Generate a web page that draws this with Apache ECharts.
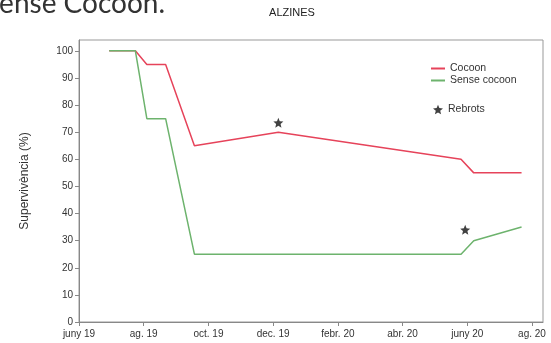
<!DOCTYPE html>
<html><head><meta charset="utf-8">
<script src="https://cdn.jsdelivr.net/npm/echarts@6/dist/echarts.min.js"></script>
<style>html,body{margin:0;padding:0;background:#fff}#c{width:551px;height:343px}</style>
</head><body><div id="c"></div>
<script>
const dates = ['2019-06-29','2019-07-24','2019-08-04','2019-08-22','2019-09-18','2019-12-06','2020-05-26','2020-06-07','2020-07-22'];
const cocoon = [100, 100, 95, 95, 65, 70, 60, 55, 55];
const senseCocoon = [100, 100, 75, 75, 25, 25, 25, 30, 35];
const rebrotDates = ['2019-12-06', '2020-05-30'];
const rebrotValues = [73.5, 34];
const xTickLabels = ['juny 19','ag. 19','oct. 19','dec. 19','febr. 20','abr. 20','juny 20','ag. 20'];
const yTicks = [0,10,20,30,40,50,60,70,80,90,100];

// convert a date into months since 1 June 2019
function monthIndex(s){
  const [y,m,d] = s.split('-').map(Number);
  const dim = new Date(y, m, 0).getDate();
  return (y-2019)*12 + (m-6) + (d-1)/dim;
}
const pairs = (ds, vs) => ds.map((d,i)=>[monthIndex(d), vs[i]]);

const font = 'Liberation Sans, Arial, sans-serif';
const chart = echarts.init(document.getElementById('c'), null, {renderer:'canvas'});
chart.setOption({
  animation:false,
  backgroundColor:'#fff',
  textStyle:{fontFamily:font},
  graphic:[
    {type:'text', left:-16, top:-10, style:{text:'Sense Cocoon.', font:'28px Lato, sans-serif', fill:'#333'}},
    {type:'text', x:292, y:7, style:{text:'ALZINES', font:'11px '+font, fill:'#222', align:'center'}}
  ],
  grid:{left:79, top:40, right:8, bottom:21, show:true, borderColor:'#999', borderWidth:1},
  legend:[
    {data:['Cocoon','Sense cocoon'], orient:'vertical', left:426, top:58, itemWidth:14, itemHeight:2, itemGap:1, icon:'rect',
     textStyle:{fontSize:10.5, color:'#333', fontFamily:font}},
    {data:['Rebrots'], left:428, top:99, itemWidth:10, itemHeight:10, textStyle:{fontSize:10.5, color:'#333', fontFamily:font}}
  ],
  xAxis:{type:'value', min:0, max:14.34, interval:2,
    axisLine:{lineStyle:{color:'#888'}}, axisTick:{length:4, lineStyle:{color:'#888'}},
    splitLine:{show:false},
    axisLabel:{fontSize:10, color:'#333', margin:7, showMaxLabel:false, formatter:v=>xTickLabels[Math.round(v/2)]||''}},
  yAxis:{type:'value', min:0, max:104, interval:10,
    name:'Supervivència (%)', nameLocation:'middle', nameGap:48, nameRotate:90,
    nameTextStyle:{fontSize:12, color:'#333', fontFamily:font},
    axisLine:{show:true, lineStyle:{color:'#888'}}, axisTick:{show:true, length:4, lineStyle:{color:'#888'}},
    splitLine:{show:false},
    axisLabel:{fontSize:10, color:'#333', margin:6, padding:[0,0,10,0], showMaxLabel:false,
      formatter:v=>yTicks.includes(v)?String(v):''}},
  series:[
    {name:'Cocoon', type:'line', data:pairs(dates,cocoon), symbol:'none', color:'#e6435a', lineStyle:{width:1.5, color:'#e6435a'}},
    {name:'Sense cocoon', type:'line', data:pairs(dates,senseCocoon), symbol:'none', color:'#6db36d', lineStyle:{width:1.5, color:'#6db36d'}},
    {name:'Rebrots', type:'scatter', data:pairs(rebrotDates,rebrotValues), symbol:'path://M12 1L15.1 8.6 23.3 9.3 17 14.6 19 22.6 12 18.4 5 22.6 7 14.6 0.7 9.3 8.9 8.6Z', symbolSize:10, itemStyle:{color:'#111'}, color:'#111'}
  ]
});
</script></body></html>
